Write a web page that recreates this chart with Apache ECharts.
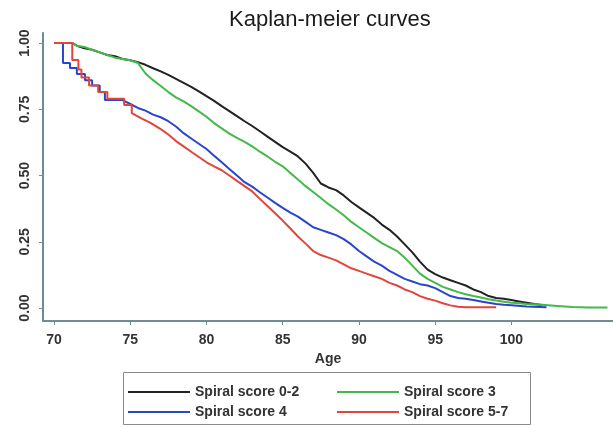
<!DOCTYPE html>
<html><head><meta charset="utf-8">
<script src="https://cdn.jsdelivr.net/npm/echarts@6/dist/echarts.min.js"></script>
<style>html,body{margin:0;padding:0;background:#fff}#c{width:613px;height:428px}</style>
</head><body><div id="c"></div>
<script>
const seriesNames = ['Spiral score 0-2','Spiral score 3','Spiral score 4','Spiral score 5-7'];
const xTicks = [70,75,80,85,90,95,100];
const yTicks = [0,0.25,0.5,0.75,1];

const agesBlack = [71.2,71.5,72,72.5,73,73.5,74,74.5,75,75.5,76,76.5,77,77.5,78,78.5,79,79.5,80,80.5,81,81.5,82,82.5,83,83.5,84,84.5,85,85.5,86,86.5,87,87.5,88,88.5,89,89.5,90,90.5,91,91.5,92,92.5,93,93.5,94,94.5,95,95.5,96,96.5,97,97.5,98,98.5,99,99.5,100,100.5,101,101.5,102];
const survBlack = [1,0.99,0.98,0.975,0.965,0.955,0.95,0.94,0.935,0.928,0.918,0.905,0.893,0.88,0.865,0.85,0.835,0.818,0.8,0.782,0.762,0.743,0.724,0.705,0.687,0.667,0.647,0.627,0.607,0.59,0.572,0.545,0.51,0.47,0.455,0.445,0.425,0.4,0.38,0.36,0.34,0.315,0.295,0.27,0.24,0.21,0.175,0.145,0.128,0.115,0.105,0.095,0.085,0.07,0.06,0.045,0.038,0.035,0.03,0.025,0.02,0.015,0.011];

const agesGreen = [71.2,71.5,72,72.5,73,73.5,74,74.5,75,75.5,76,76.5,77,77.5,78,78.5,79,79.5,80,80.5,81,81.5,82,82.5,83,83.5,84,84.5,85,85.5,86,86.5,87,87.5,88,88.5,89,89.5,90,90.5,91,91.5,92,92.5,93,93.5,94,94.5,95,95.5,96,96.5,97,97.5,98,98.5,99,99.5,100,100.5,101,102,103,104,105,106.3];
const survGreen = [1,0.99,0.985,0.975,0.965,0.955,0.945,0.94,0.935,0.925,0.885,0.86,0.838,0.815,0.795,0.78,0.762,0.742,0.722,0.698,0.678,0.658,0.642,0.627,0.61,0.59,0.572,0.552,0.535,0.51,0.485,0.46,0.438,0.415,0.392,0.372,0.35,0.325,0.305,0.285,0.265,0.245,0.23,0.215,0.19,0.16,0.13,0.11,0.095,0.08,0.07,0.06,0.052,0.045,0.04,0.033,0.028,0.024,0.02,0.018,0.015,0.012,0.008,0.004,0.002,0.002];

const agesBlue = [70,70.59,70.59,71.05,71.05,71.5,71.5,72.03,72.03,72.5,72.5,73,73,73.34,73.34,74.5,75,75.5,76,76.5,77,77.5,78,78.5,79,79.5,80,80.5,81,81.5,82,82.5,83,83.5,84,84.5,85,85.5,86,86.5,87,87.5,88,88.5,89,89.5,90,90.5,91,91.5,92,92.5,93,93.5,94,94.5,95,95.5,96,96.5,97,97.5,98,98.5,99,99.5,100,101,102.3];
const survBlue = [1,1,0.925,0.925,0.906,0.906,0.883,0.883,0.86,0.86,0.84,0.84,0.815,0.815,0.785,0.785,0.77,0.755,0.745,0.73,0.72,0.705,0.685,0.66,0.64,0.62,0.6,0.575,0.55,0.525,0.5,0.475,0.458,0.437,0.417,0.397,0.378,0.36,0.345,0.325,0.305,0.295,0.285,0.275,0.26,0.24,0.215,0.195,0.175,0.16,0.14,0.125,0.11,0.1,0.09,0.085,0.075,0.06,0.045,0.038,0.035,0.03,0.025,0.02,0.015,0.012,0.01,0.006,0.003];

const agesRed = [70,71.2,71.2,71.6,71.6,71.8,71.8,72.3,72.3,72.9,72.9,73.5,73.5,74.6,74.6,75.1,75.1,75.7,76.3,77,77.5,78,78.5,79,79.5,80,80.5,81,81.5,82,82.5,83,83.5,84,84.5,85,85.5,86,86.5,87,87.5,88,88.5,89,89.5,90,90.5,91,91.5,92,92.5,93,93.5,94,94.5,95,95.5,96,96.5,97,99];
const survRed = [1,1,0.936,0.936,0.9,0.9,0.87,0.87,0.84,0.84,0.815,0.815,0.79,0.79,0.766,0.766,0.736,0.717,0.7,0.675,0.655,0.63,0.61,0.59,0.57,0.55,0.535,0.52,0.5,0.48,0.46,0.44,0.412,0.385,0.358,0.33,0.3,0.27,0.243,0.215,0.2,0.19,0.18,0.165,0.15,0.14,0.13,0.12,0.11,0.095,0.085,0.07,0.06,0.045,0.035,0.028,0.018,0.01,0.005,0.003,0.003];

const colors = ['#222222','#45b84a','#2a45cc','#e2453c'];
const ages = [agesBlack, agesGreen, agesBlue, agesRed];
const survs = [survBlack, survGreen, survBlue, survRed];

const FONT = 'Liberation Sans, Arial, sans-serif';
const chart = echarts.init(document.getElementById('c'), null, {renderer:'canvas'});
const axisColor = '#6f8c90';
const legendText = {fontFamily:FONT, fontSize:14, fontWeight:'bold', color:'#333', width:125, lineHeight:16};
chart.setOption({
  animation:false,
  backgroundColor:'#fff',
  title:{text:'Kaplan-meier curves', left:224, top:4,
    textStyle:{fontFamily:FONT, fontSize:22, fontWeight:'normal', color:'#1a1a1a'}},
  grid:{left:43, top:33, right:0, bottom:107},
  xAxis:{type:'value', min:69.28, max:106.66,
    name:'Age', nameLocation:'middle', nameGap:31,
    nameTextStyle:{fontFamily:FONT, fontSize:14, fontWeight:'bold', color:'#333'},
    axisLine:{show:true, onZero:false, lineStyle:{color:axisColor, width:2}},
    axisTick:{show:true, length:4, customValues:xTicks, lineStyle:{color:axisColor}},
    axisLabel:{customValues:xTicks, margin:12, fontFamily:FONT, fontSize:14, fontWeight:'bold', color:'#333'},
    splitLine:{show:false}},
  yAxis:{type:'value', min:-0.049, max:1.038,
    axisLine:{show:true, onZero:false, lineStyle:{color:axisColor, width:2}},
    axisTick:{show:true, length:4, customValues:yTicks, lineStyle:{color:axisColor}},
    axisLabel:{customValues:yTicks, rotate:90, margin:11, formatter:v=>v.toFixed(2),
      fontFamily:FONT, fontSize:14, fontWeight:'bold', color:'#333'},
    splitLine:{show:false}},
  legend:[
    {left:128, top:384, padding:0, itemGap:17, itemWidth:62, itemHeight:2, icon:'rect',
     data:[seriesNames[0], seriesNames[1]], textStyle:legendText},
    {left:128, top:404, padding:0, itemGap:17, itemWidth:62, itemHeight:2, icon:'rect',
     data:[seriesNames[2], seriesNames[3]], textStyle:legendText}
  ],
  graphic:[{type:'rect', shape:{x:123.5, y:372.5, width:407, height:52},
    style:{fill:'none', stroke:'#8a8a8a', lineWidth:1}, silent:true}],
  series: seriesNames.map((n,i)=>({
    name:n, type:'line', showSymbol:false, symbol:'none',
    lineStyle:{color:colors[i], width:2}, itemStyle:{color:colors[i]},
    data: ages[i].map((a,j)=>[a, survs[i][j]])
  }))
});
</script></body></html>
